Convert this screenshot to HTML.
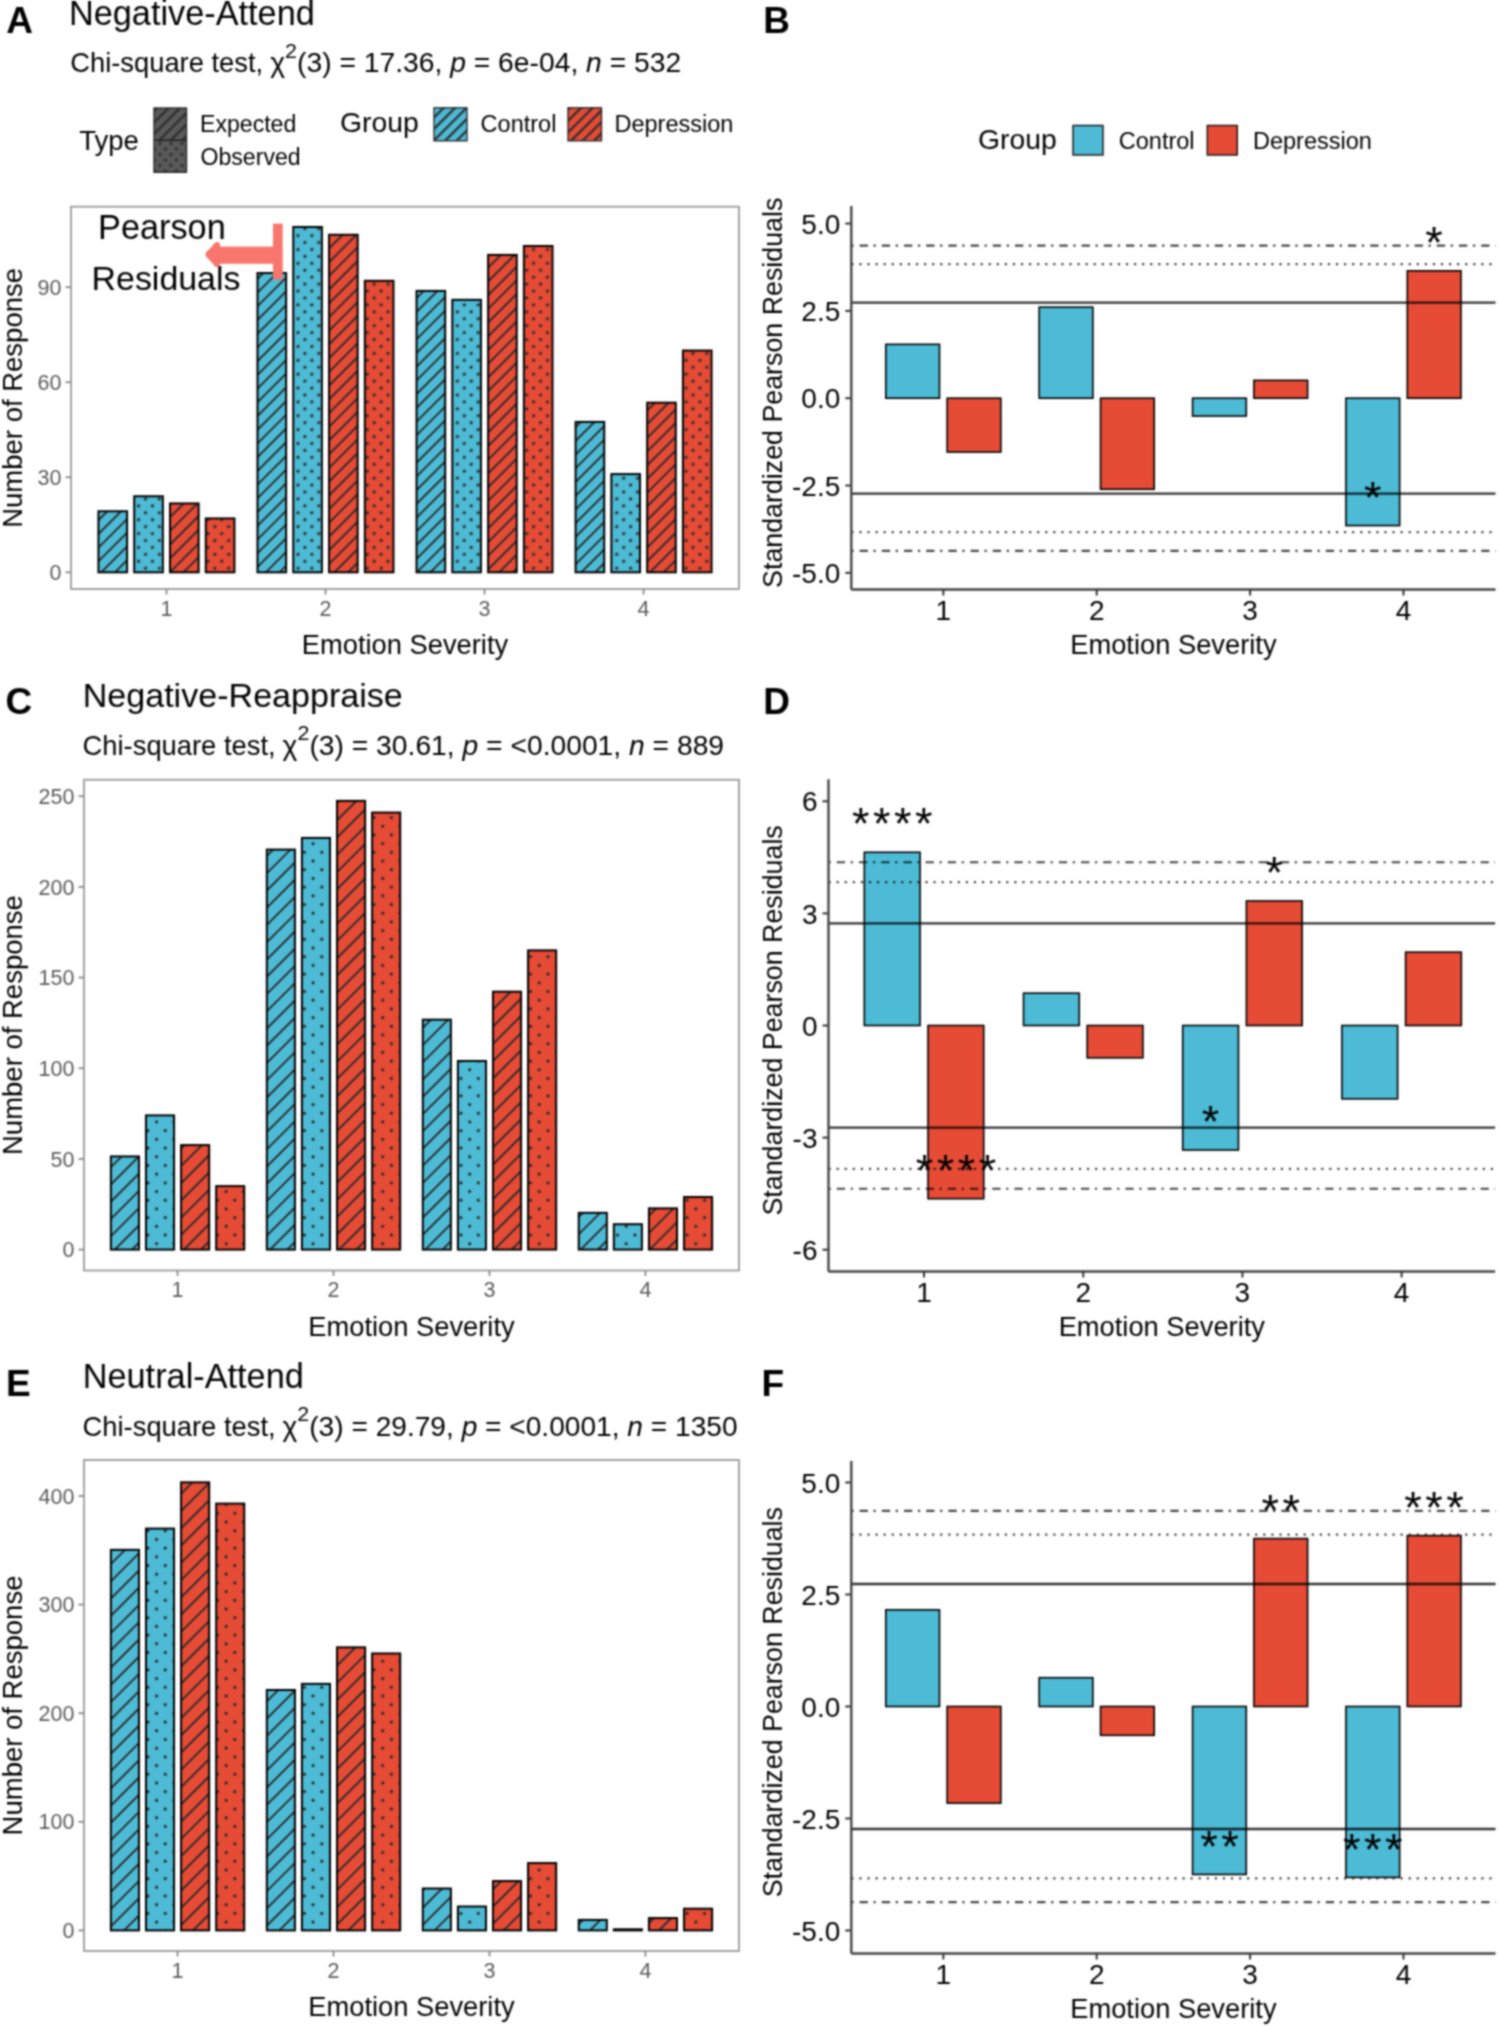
<!DOCTYPE html>
<html><head><meta charset="utf-8"><title>Figure</title>
<style>html,body{margin:0;padding:0;background:#fff;} svg{display:block;} text{font-family:"Liberation Sans",sans-serif;}</style>
</head><body>
<svg width="1499" height="2026" viewBox="0 0 1499 2026" font-family="Liberation Sans, sans-serif">
<defs>
<pattern id="stA" patternUnits="userSpaceOnUse" width="9.7" height="9.7" patternTransform="rotate(45)">
<rect x="0" y="0" width="1.9" height="9.7" fill="#2b2b2b"/></pattern>
<pattern id="dtA" patternUnits="userSpaceOnUse" width="9.8" height="9.8" patternTransform="rotate(45)">
<circle cx="4.9" cy="4.9" r="1.6" fill="#2b2b2b"/></pattern>
<pattern id="stC" patternUnits="userSpaceOnUse" width="12.2" height="12.2" patternTransform="rotate(45)">
<rect x="0" y="0" width="1.9" height="12.2" fill="#2b2b2b"/></pattern>
<pattern id="dtC" patternUnits="userSpaceOnUse" width="12.3" height="12.3" patternTransform="rotate(45)">
<circle cx="6.15" cy="6.15" r="1.6" fill="#2b2b2b"/></pattern>
<pattern id="stk" patternUnits="userSpaceOnUse" width="8.1" height="8.1" patternTransform="rotate(45)">
<rect x="0" y="0" width="2.3" height="8.1" fill="#2e2e2e"/></pattern>
<pattern id="dtk" patternUnits="userSpaceOnUse" width="7.8" height="7.8" patternTransform="rotate(45)">
<circle cx="3.9" cy="3.9" r="1.8" fill="#333"/></pattern>
</defs>
<filter id="soft" x="0" y="0" width="1499" height="2026" filterUnits="userSpaceOnUse" color-interpolation-filters="sRGB"><feConvolveMatrix order="5" kernelMatrix="0.00717 0.04567 0.08466 0.04567 0.00717 0.04567 0.29096 0.53941 0.29096 0.04567 0.08466 0.53941 1.00000 0.53941 0.08466 0.04567 0.29096 0.53941 0.29096 0.04567 0.00717 0.04567 0.08466 0.04567 0.00717" edgeMode="duplicate"/></filter>
<rect width="1499" height="2026" fill="#fff"/>
<g filter="url(#soft)">
<rect width="1499" height="2026" fill="#fff"/>
<text x="6.3" y="32.9" font-size="37" text-anchor="start" fill="#000" font-weight="bold" >A</text>
<text x="763.2" y="33.0" font-size="37" text-anchor="start" fill="#000" font-weight="bold" >B</text>
<text x="5.6" y="714.3" font-size="37" text-anchor="start" fill="#000" font-weight="bold" >C</text>
<text x="763.2" y="714.4" font-size="37" text-anchor="start" fill="#000" font-weight="bold" >D</text>
<text x="6.0" y="1395.7" font-size="37" text-anchor="start" fill="#000" font-weight="bold" >E</text>
<text x="761.4" y="1396.0" font-size="37" text-anchor="start" fill="#000" font-weight="bold" >F</text>
<text x="68.9" y="25.4" font-size="34.3" text-anchor="start" fill="#000" font-weight="normal" >Negative-Attend</text>
<text x="70.2" y="72" font-size="27.6" fill="#000" textLength="193.0" lengthAdjust="spacingAndGlyphs">Chi-square test,</text>
<text x="270.2" y="72" font-size="27.6" fill="#000" textLength="411.0" lengthAdjust="spacingAndGlyphs">χ<tspan font-size="21" dy="-14.5">2</tspan><tspan dy="14.5">(3) = 17.36, </tspan><tspan font-style="italic">p</tspan> = 6e-04, <tspan font-style="italic">n</tspan> = 532</text>
<text x="82.7" y="707.0" font-size="34.1" text-anchor="start" fill="#000" font-weight="normal" >Negative-Reappraise</text>
<text x="82.6" y="754.7" font-size="27.6" fill="#000" textLength="193.0" lengthAdjust="spacingAndGlyphs">Chi-square test,</text>
<text x="282.6" y="754.7" font-size="27.6" fill="#000" textLength="441.5" lengthAdjust="spacingAndGlyphs">χ<tspan font-size="21" dy="-14.5">2</tspan><tspan dy="14.5">(3) = 30.61, </tspan><tspan font-style="italic">p</tspan> = &lt;0.0001, <tspan font-style="italic">n</tspan> = 889</text>
<text x="82.7" y="1388.4" font-size="34.3" text-anchor="start" fill="#000" font-weight="normal" >Neutral-Attend</text>
<text x="82.6" y="1435.7" font-size="27.6" fill="#000" textLength="193.0" lengthAdjust="spacingAndGlyphs">Chi-square test,</text>
<text x="282.6" y="1435.7" font-size="27.6" fill="#000" textLength="455.0" lengthAdjust="spacingAndGlyphs">χ<tspan font-size="21" dy="-14.5">2</tspan><tspan dy="14.5">(3) = 29.79, </tspan><tspan font-style="italic">p</tspan> = &lt;0.0001, <tspan font-style="italic">n</tspan> = 1350</text>
<text x="79.2" y="150.3" font-size="27.5" text-anchor="start" fill="#000" font-weight="normal" >Type</text>
<rect x="154" y="108" width="32.5" height="32.3" fill="#595959"/><rect x="154" y="108" width="32.5" height="32.3" fill="url(#stk)"/>
<rect x="154" y="140.3" width="32.5" height="32" fill="#595959"/><rect x="154" y="140.3" width="32.5" height="32" fill="url(#dtk)"/>
<rect x="154" y="108" width="32.5" height="64.3" fill="none" stroke="#222" stroke-width="1.3"/><line x1="154" y1="140.3" x2="186.5" y2="140.3" stroke="#222" stroke-width="1.5"/>
<text x="200.0" y="131.7" font-size="23.1" text-anchor="start" fill="#000" font-weight="normal" >Expected</text>
<text x="200.5" y="165.0" font-size="23.1" text-anchor="start" fill="#000" font-weight="normal" >Observed</text>
<text x="340.1" y="132.0" font-size="28.3" text-anchor="start" fill="#000" font-weight="normal" >Group</text>
<rect x="434" y="107.8" width="33" height="33" fill="#4DBBD5"/><rect x="434" y="107.8" width="33" height="33" fill="url(#stk)"/><rect x="434" y="107.8" width="33" height="33" fill="none" stroke="#222" stroke-width="1.3"/>
<text x="480.6" y="132.0" font-size="23.5" text-anchor="start" fill="#000" font-weight="normal" >Control</text>
<rect x="568" y="107.8" width="33.5" height="33" fill="#E64B35"/><rect x="568" y="107.8" width="33.5" height="33" fill="url(#stk)"/><rect x="568" y="107.8" width="33.5" height="33" fill="none" stroke="#222" stroke-width="1.3"/>
<text x="614.5" y="132.0" font-size="23.5" text-anchor="start" fill="#000" font-weight="normal" >Depression</text>
<text x="978.1" y="149.3" font-size="28.3" text-anchor="start" fill="#000" font-weight="normal" >Group</text>
<rect x="1073" y="125.5" width="30" height="29.5" fill="#4DBBD5" stroke="#111" stroke-width="1.4"/>
<text x="1118.8" y="148.7" font-size="23.5" text-anchor="start" fill="#000" font-weight="normal" >Control</text>
<rect x="1207.3" y="125.5" width="30" height="29.5" fill="#E64B35" stroke="#111" stroke-width="1.4"/>
<text x="1253.0" y="148.7" font-size="23.5" text-anchor="start" fill="#000" font-weight="normal" >Depression</text>
<rect x="71" y="206.7" width="668" height="382.3" fill="none" stroke="#9a9a9a" stroke-width="1.8"/>
<rect x="98.44" y="511.26" width="28.63" height="61.04" fill="#4DBBD5"/>
<rect x="98.44" y="511.26" width="28.63" height="61.04" fill="url(#stA)"/>
<rect x="98.44" y="511.26" width="28.63" height="61.04" fill="none" stroke="#000" stroke-width="2.0"/>
<rect x="134.22" y="496.27" width="28.63" height="76.03" fill="#4DBBD5"/>
<rect x="134.22" y="496.27" width="28.63" height="76.03" fill="url(#dtA)"/>
<rect x="134.22" y="496.27" width="28.63" height="76.03" fill="none" stroke="#000" stroke-width="2.0"/>
<rect x="170.01" y="503.45" width="28.63" height="68.85" fill="#E64B35"/>
<rect x="170.01" y="503.45" width="28.63" height="68.85" fill="url(#stA)"/>
<rect x="170.01" y="503.45" width="28.63" height="68.85" fill="none" stroke="#000" stroke-width="2.0"/>
<rect x="205.79" y="518.44" width="28.63" height="53.86" fill="#E64B35"/>
<rect x="205.79" y="518.44" width="28.63" height="53.86" fill="url(#dtA)"/>
<rect x="205.79" y="518.44" width="28.63" height="53.86" fill="none" stroke="#000" stroke-width="2.0"/>
<rect x="257.48" y="273.07" width="28.63" height="299.23" fill="#4DBBD5"/>
<rect x="257.48" y="273.07" width="28.63" height="299.23" fill="url(#stA)"/>
<rect x="257.48" y="273.07" width="28.63" height="299.23" fill="none" stroke="#000" stroke-width="2.0"/>
<rect x="293.27" y="226.99" width="28.63" height="345.31" fill="#4DBBD5"/>
<rect x="293.27" y="226.99" width="28.63" height="345.31" fill="url(#dtA)"/>
<rect x="293.27" y="226.99" width="28.63" height="345.31" fill="none" stroke="#000" stroke-width="2.0"/>
<rect x="329.05" y="234.77" width="28.63" height="337.53" fill="#E64B35"/>
<rect x="329.05" y="234.77" width="28.63" height="337.53" fill="url(#stA)"/>
<rect x="329.05" y="234.77" width="28.63" height="337.53" fill="none" stroke="#000" stroke-width="2.0"/>
<rect x="364.84" y="280.84" width="28.63" height="291.46" fill="#E64B35"/>
<rect x="364.84" y="280.84" width="28.63" height="291.46" fill="url(#dtA)"/>
<rect x="364.84" y="280.84" width="28.63" height="291.46" fill="none" stroke="#000" stroke-width="2.0"/>
<rect x="416.53" y="290.93" width="28.63" height="281.37" fill="#4DBBD5"/>
<rect x="416.53" y="290.93" width="28.63" height="281.37" fill="url(#stA)"/>
<rect x="416.53" y="290.93" width="28.63" height="281.37" fill="none" stroke="#000" stroke-width="2.0"/>
<rect x="452.32" y="299.85" width="28.63" height="272.45" fill="#4DBBD5"/>
<rect x="452.32" y="299.85" width="28.63" height="272.45" fill="url(#dtA)"/>
<rect x="452.32" y="299.85" width="28.63" height="272.45" fill="none" stroke="#000" stroke-width="2.0"/>
<rect x="488.10" y="254.92" width="28.63" height="317.38" fill="#E64B35"/>
<rect x="488.10" y="254.92" width="28.63" height="317.38" fill="url(#stA)"/>
<rect x="488.10" y="254.92" width="28.63" height="317.38" fill="none" stroke="#000" stroke-width="2.0"/>
<rect x="523.89" y="246.00" width="28.63" height="326.30" fill="#E64B35"/>
<rect x="523.89" y="246.00" width="28.63" height="326.30" fill="url(#dtA)"/>
<rect x="523.89" y="246.00" width="28.63" height="326.30" fill="none" stroke="#000" stroke-width="2.0"/>
<rect x="575.58" y="421.94" width="28.63" height="150.36" fill="#4DBBD5"/>
<rect x="575.58" y="421.94" width="28.63" height="150.36" fill="url(#stA)"/>
<rect x="575.58" y="421.94" width="28.63" height="150.36" fill="none" stroke="#000" stroke-width="2.0"/>
<rect x="611.36" y="474.09" width="28.63" height="98.21" fill="#4DBBD5"/>
<rect x="611.36" y="474.09" width="28.63" height="98.21" fill="url(#dtA)"/>
<rect x="611.36" y="474.09" width="28.63" height="98.21" fill="none" stroke="#000" stroke-width="2.0"/>
<rect x="647.15" y="402.69" width="28.63" height="169.61" fill="#E64B35"/>
<rect x="647.15" y="402.69" width="28.63" height="169.61" fill="url(#stA)"/>
<rect x="647.15" y="402.69" width="28.63" height="169.61" fill="none" stroke="#000" stroke-width="2.0"/>
<rect x="682.94" y="350.54" width="28.63" height="221.76" fill="#E64B35"/>
<rect x="682.94" y="350.54" width="28.63" height="221.76" fill="url(#dtA)"/>
<rect x="682.94" y="350.54" width="28.63" height="221.76" fill="none" stroke="#000" stroke-width="2.0"/>
<line x1="65.5" y1="572.30" x2="71" y2="572.30" stroke="#8a8a8a" stroke-width="1.8"/>
<text x="61.4" y="579.9" font-size="21.5" text-anchor="end" fill="#5a5a5a" font-weight="normal" >0</text>
<line x1="65.5" y1="477.26" x2="71" y2="477.26" stroke="#8a8a8a" stroke-width="1.8"/>
<text x="61.4" y="484.9" font-size="21.5" text-anchor="end" fill="#5a5a5a" font-weight="normal" >30</text>
<line x1="65.5" y1="382.22" x2="71" y2="382.22" stroke="#8a8a8a" stroke-width="1.8"/>
<text x="61.4" y="389.8" font-size="21.5" text-anchor="end" fill="#5a5a5a" font-weight="normal" >60</text>
<line x1="65.5" y1="287.18" x2="71" y2="287.18" stroke="#8a8a8a" stroke-width="1.8"/>
<text x="61.4" y="294.8" font-size="21.5" text-anchor="end" fill="#5a5a5a" font-weight="normal" >90</text>
<line x1="166.43" y1="589" x2="166.43" y2="594.5" stroke="#8a8a8a" stroke-width="1.8"/>
<text x="166.4" y="615.9" font-size="21.5" text-anchor="middle" fill="#5a5a5a" font-weight="normal" >1</text>
<line x1="325.48" y1="589" x2="325.48" y2="594.5" stroke="#8a8a8a" stroke-width="1.8"/>
<text x="325.5" y="615.9" font-size="21.5" text-anchor="middle" fill="#5a5a5a" font-weight="normal" >2</text>
<line x1="484.52" y1="589" x2="484.52" y2="594.5" stroke="#8a8a8a" stroke-width="1.8"/>
<text x="484.5" y="615.9" font-size="21.5" text-anchor="middle" fill="#5a5a5a" font-weight="normal" >3</text>
<line x1="643.57" y1="589" x2="643.57" y2="594.5" stroke="#8a8a8a" stroke-width="1.8"/>
<text x="643.6" y="615.9" font-size="21.5" text-anchor="middle" fill="#5a5a5a" font-weight="normal" >4</text>
<text x="405.0" y="654.0" font-size="27.3" text-anchor="middle" fill="#000" font-weight="normal" >Emotion Severity</text>
<text transform="translate(22.1,397.9) rotate(-90)" x="0" y="0" font-size="27.5" text-anchor="middle" fill="#000">Number of Response</text>
<rect x="84" y="779.75" width="655" height="490.75" fill="none" stroke="#9a9a9a" stroke-width="1.8"/>
<rect x="110.90" y="1156.43" width="28.07" height="93.17" fill="#4DBBD5"/>
<rect x="110.90" y="1156.43" width="28.07" height="93.17" fill="url(#stC)"/>
<rect x="110.90" y="1156.43" width="28.07" height="93.17" fill="none" stroke="#000" stroke-width="2.0"/>
<rect x="145.99" y="1115.40" width="28.07" height="134.20" fill="#4DBBD5"/>
<rect x="145.99" y="1115.40" width="28.07" height="134.20" fill="url(#dtC)"/>
<rect x="145.99" y="1115.40" width="28.07" height="134.20" fill="none" stroke="#000" stroke-width="2.0"/>
<rect x="181.08" y="1145.09" width="28.07" height="104.51" fill="#E64B35"/>
<rect x="181.08" y="1145.09" width="28.07" height="104.51" fill="url(#stC)"/>
<rect x="181.08" y="1145.09" width="28.07" height="104.51" fill="none" stroke="#000" stroke-width="2.0"/>
<rect x="216.17" y="1186.13" width="28.07" height="63.47" fill="#E64B35"/>
<rect x="216.17" y="1186.13" width="28.07" height="63.47" fill="url(#dtC)"/>
<rect x="216.17" y="1186.13" width="28.07" height="63.47" fill="none" stroke="#000" stroke-width="2.0"/>
<rect x="266.85" y="849.59" width="28.07" height="400.01" fill="#4DBBD5"/>
<rect x="266.85" y="849.59" width="28.07" height="400.01" fill="url(#stC)"/>
<rect x="266.85" y="849.59" width="28.07" height="400.01" fill="none" stroke="#000" stroke-width="2.0"/>
<rect x="301.94" y="837.94" width="28.07" height="411.66" fill="#4DBBD5"/>
<rect x="301.94" y="837.94" width="28.07" height="411.66" fill="url(#dtC)"/>
<rect x="301.94" y="837.94" width="28.07" height="411.66" fill="none" stroke="#000" stroke-width="2.0"/>
<rect x="337.03" y="800.90" width="28.07" height="448.70" fill="#E64B35"/>
<rect x="337.03" y="800.90" width="28.07" height="448.70" fill="url(#stC)"/>
<rect x="337.03" y="800.90" width="28.07" height="448.70" fill="none" stroke="#000" stroke-width="2.0"/>
<rect x="372.12" y="812.55" width="28.07" height="437.05" fill="#E64B35"/>
<rect x="372.12" y="812.55" width="28.07" height="437.05" fill="url(#dtC)"/>
<rect x="372.12" y="812.55" width="28.07" height="437.05" fill="none" stroke="#000" stroke-width="2.0"/>
<rect x="422.81" y="1019.68" width="28.07" height="229.92" fill="#4DBBD5"/>
<rect x="422.81" y="1019.68" width="28.07" height="229.92" fill="url(#stC)"/>
<rect x="422.81" y="1019.68" width="28.07" height="229.92" fill="none" stroke="#000" stroke-width="2.0"/>
<rect x="457.90" y="1061.00" width="28.07" height="188.60" fill="#4DBBD5"/>
<rect x="457.90" y="1061.00" width="28.07" height="188.60" fill="url(#dtC)"/>
<rect x="457.90" y="1061.00" width="28.07" height="188.60" fill="none" stroke="#000" stroke-width="2.0"/>
<rect x="492.99" y="991.69" width="28.07" height="257.91" fill="#E64B35"/>
<rect x="492.99" y="991.69" width="28.07" height="257.91" fill="url(#stC)"/>
<rect x="492.99" y="991.69" width="28.07" height="257.91" fill="none" stroke="#000" stroke-width="2.0"/>
<rect x="528.07" y="950.37" width="28.07" height="299.23" fill="#E64B35"/>
<rect x="528.07" y="950.37" width="28.07" height="299.23" fill="url(#dtC)"/>
<rect x="528.07" y="950.37" width="28.07" height="299.23" fill="none" stroke="#000" stroke-width="2.0"/>
<rect x="578.76" y="1212.85" width="28.07" height="36.75" fill="#4DBBD5"/>
<rect x="578.76" y="1212.85" width="28.07" height="36.75" fill="url(#stC)"/>
<rect x="578.76" y="1212.85" width="28.07" height="36.75" fill="none" stroke="#000" stroke-width="2.0"/>
<rect x="613.85" y="1224.21" width="28.07" height="25.39" fill="#4DBBD5"/>
<rect x="613.85" y="1224.21" width="28.07" height="25.39" fill="url(#dtC)"/>
<rect x="613.85" y="1224.21" width="28.07" height="25.39" fill="none" stroke="#000" stroke-width="2.0"/>
<rect x="648.94" y="1208.37" width="28.07" height="41.23" fill="#E64B35"/>
<rect x="648.94" y="1208.37" width="28.07" height="41.23" fill="url(#stC)"/>
<rect x="648.94" y="1208.37" width="28.07" height="41.23" fill="none" stroke="#000" stroke-width="2.0"/>
<rect x="684.03" y="1197.01" width="28.07" height="52.59" fill="#E64B35"/>
<rect x="684.03" y="1197.01" width="28.07" height="52.59" fill="url(#dtC)"/>
<rect x="684.03" y="1197.01" width="28.07" height="52.59" fill="none" stroke="#000" stroke-width="2.0"/>
<line x1="78.5" y1="1249.60" x2="84" y2="1249.60" stroke="#8a8a8a" stroke-width="1.8"/>
<text x="74.4" y="1257.2" font-size="21.5" text-anchor="end" fill="#5a5a5a" font-weight="normal" >0</text>
<line x1="78.5" y1="1158.92" x2="84" y2="1158.92" stroke="#8a8a8a" stroke-width="1.8"/>
<text x="74.4" y="1166.5" font-size="21.5" text-anchor="end" fill="#5a5a5a" font-weight="normal" >50</text>
<line x1="78.5" y1="1068.25" x2="84" y2="1068.25" stroke="#8a8a8a" stroke-width="1.8"/>
<text x="74.4" y="1075.8" font-size="21.5" text-anchor="end" fill="#5a5a5a" font-weight="normal" >100</text>
<line x1="78.5" y1="977.57" x2="84" y2="977.57" stroke="#8a8a8a" stroke-width="1.8"/>
<text x="74.4" y="985.2" font-size="21.5" text-anchor="end" fill="#5a5a5a" font-weight="normal" >150</text>
<line x1="78.5" y1="886.90" x2="84" y2="886.90" stroke="#8a8a8a" stroke-width="1.8"/>
<text x="74.4" y="894.5" font-size="21.5" text-anchor="end" fill="#5a5a5a" font-weight="normal" >200</text>
<line x1="78.5" y1="796.22" x2="84" y2="796.22" stroke="#8a8a8a" stroke-width="1.8"/>
<text x="74.4" y="803.8" font-size="21.5" text-anchor="end" fill="#5a5a5a" font-weight="normal" >250</text>
<line x1="177.57" y1="1270.5" x2="177.57" y2="1276.0" stroke="#8a8a8a" stroke-width="1.8"/>
<text x="177.6" y="1297.4" font-size="21.5" text-anchor="middle" fill="#5a5a5a" font-weight="normal" >1</text>
<line x1="333.52" y1="1270.5" x2="333.52" y2="1276.0" stroke="#8a8a8a" stroke-width="1.8"/>
<text x="333.5" y="1297.4" font-size="21.5" text-anchor="middle" fill="#5a5a5a" font-weight="normal" >2</text>
<line x1="489.48" y1="1270.5" x2="489.48" y2="1276.0" stroke="#8a8a8a" stroke-width="1.8"/>
<text x="489.5" y="1297.4" font-size="21.5" text-anchor="middle" fill="#5a5a5a" font-weight="normal" >3</text>
<line x1="645.43" y1="1270.5" x2="645.43" y2="1276.0" stroke="#8a8a8a" stroke-width="1.8"/>
<text x="645.4" y="1297.4" font-size="21.5" text-anchor="middle" fill="#5a5a5a" font-weight="normal" >4</text>
<text x="411.5" y="1335.5" font-size="27.3" text-anchor="middle" fill="#000" font-weight="normal" >Emotion Severity</text>
<text transform="translate(22.1,1025.1) rotate(-90)" x="0" y="0" font-size="27.5" text-anchor="middle" fill="#000">Number of Response</text>
<rect x="84" y="1460" width="655" height="491" fill="none" stroke="#9a9a9a" stroke-width="1.8"/>
<rect x="110.90" y="1549.85" width="28.07" height="380.55" fill="#4DBBD5"/>
<rect x="110.90" y="1549.85" width="28.07" height="380.55" fill="url(#stC)"/>
<rect x="110.90" y="1549.85" width="28.07" height="380.55" fill="none" stroke="#000" stroke-width="2.0"/>
<rect x="145.99" y="1528.58" width="28.07" height="401.82" fill="#4DBBD5"/>
<rect x="145.99" y="1528.58" width="28.07" height="401.82" fill="url(#dtC)"/>
<rect x="145.99" y="1528.58" width="28.07" height="401.82" fill="none" stroke="#000" stroke-width="2.0"/>
<rect x="181.08" y="1482.33" width="28.07" height="448.07" fill="#E64B35"/>
<rect x="181.08" y="1482.33" width="28.07" height="448.07" fill="url(#stC)"/>
<rect x="181.08" y="1482.33" width="28.07" height="448.07" fill="none" stroke="#000" stroke-width="2.0"/>
<rect x="216.17" y="1503.60" width="28.07" height="426.80" fill="#E64B35"/>
<rect x="216.17" y="1503.60" width="28.07" height="426.80" fill="url(#dtC)"/>
<rect x="216.17" y="1503.60" width="28.07" height="426.80" fill="none" stroke="#000" stroke-width="2.0"/>
<rect x="266.85" y="1690.00" width="28.07" height="240.40" fill="#4DBBD5"/>
<rect x="266.85" y="1690.00" width="28.07" height="240.40" fill="url(#stC)"/>
<rect x="266.85" y="1690.00" width="28.07" height="240.40" fill="none" stroke="#000" stroke-width="2.0"/>
<rect x="301.94" y="1683.88" width="28.07" height="246.52" fill="#4DBBD5"/>
<rect x="301.94" y="1683.88" width="28.07" height="246.52" fill="url(#dtC)"/>
<rect x="301.94" y="1683.88" width="28.07" height="246.52" fill="none" stroke="#000" stroke-width="2.0"/>
<rect x="337.03" y="1647.35" width="28.07" height="283.05" fill="#E64B35"/>
<rect x="337.03" y="1647.35" width="28.07" height="283.05" fill="url(#stC)"/>
<rect x="337.03" y="1647.35" width="28.07" height="283.05" fill="none" stroke="#000" stroke-width="2.0"/>
<rect x="372.12" y="1653.47" width="28.07" height="276.93" fill="#E64B35"/>
<rect x="372.12" y="1653.47" width="28.07" height="276.93" fill="url(#dtC)"/>
<rect x="372.12" y="1653.47" width="28.07" height="276.93" fill="none" stroke="#000" stroke-width="2.0"/>
<rect x="422.81" y="1888.50" width="28.07" height="41.90" fill="#4DBBD5"/>
<rect x="422.81" y="1888.50" width="28.07" height="41.90" fill="url(#stC)"/>
<rect x="422.81" y="1888.50" width="28.07" height="41.90" fill="none" stroke="#000" stroke-width="2.0"/>
<rect x="457.90" y="1906.51" width="28.07" height="23.89" fill="#4DBBD5"/>
<rect x="457.90" y="1906.51" width="28.07" height="23.89" fill="url(#dtC)"/>
<rect x="457.90" y="1906.51" width="28.07" height="23.89" fill="none" stroke="#000" stroke-width="2.0"/>
<rect x="492.99" y="1881.07" width="28.07" height="49.33" fill="#E64B35"/>
<rect x="492.99" y="1881.07" width="28.07" height="49.33" fill="url(#stC)"/>
<rect x="492.99" y="1881.07" width="28.07" height="49.33" fill="none" stroke="#000" stroke-width="2.0"/>
<rect x="528.07" y="1863.07" width="28.07" height="67.33" fill="#E64B35"/>
<rect x="528.07" y="1863.07" width="28.07" height="67.33" fill="url(#dtC)"/>
<rect x="528.07" y="1863.07" width="28.07" height="67.33" fill="none" stroke="#000" stroke-width="2.0"/>
<rect x="578.76" y="1919.93" width="28.07" height="10.47" fill="#4DBBD5"/>
<rect x="578.76" y="1919.93" width="28.07" height="10.47" fill="url(#stC)"/>
<rect x="578.76" y="1919.93" width="28.07" height="10.47" fill="none" stroke="#000" stroke-width="2.0"/>
<rect x="613.85" y="1929.31" width="28.07" height="1.09" fill="#4DBBD5"/>
<rect x="613.85" y="1929.31" width="28.07" height="1.09" fill="none" stroke="#000" stroke-width="2.0"/>
<rect x="648.94" y="1918.07" width="28.07" height="12.33" fill="#E64B35"/>
<rect x="648.94" y="1918.07" width="28.07" height="12.33" fill="url(#stC)"/>
<rect x="648.94" y="1918.07" width="28.07" height="12.33" fill="none" stroke="#000" stroke-width="2.0"/>
<rect x="684.03" y="1908.68" width="28.07" height="21.72" fill="#E64B35"/>
<rect x="684.03" y="1908.68" width="28.07" height="21.72" fill="url(#dtC)"/>
<rect x="684.03" y="1908.68" width="28.07" height="21.72" fill="none" stroke="#000" stroke-width="2.0"/>
<line x1="78.5" y1="1930.40" x2="84" y2="1930.40" stroke="#8a8a8a" stroke-width="1.8"/>
<text x="74.4" y="1938.0" font-size="21.5" text-anchor="end" fill="#5a5a5a" font-weight="normal" >0</text>
<line x1="78.5" y1="1821.80" x2="84" y2="1821.80" stroke="#8a8a8a" stroke-width="1.8"/>
<text x="74.4" y="1829.4" font-size="21.5" text-anchor="end" fill="#5a5a5a" font-weight="normal" >100</text>
<line x1="78.5" y1="1713.20" x2="84" y2="1713.20" stroke="#8a8a8a" stroke-width="1.8"/>
<text x="74.4" y="1720.8" font-size="21.5" text-anchor="end" fill="#5a5a5a" font-weight="normal" >200</text>
<line x1="78.5" y1="1604.60" x2="84" y2="1604.60" stroke="#8a8a8a" stroke-width="1.8"/>
<text x="74.4" y="1612.2" font-size="21.5" text-anchor="end" fill="#5a5a5a" font-weight="normal" >300</text>
<line x1="78.5" y1="1496.00" x2="84" y2="1496.00" stroke="#8a8a8a" stroke-width="1.8"/>
<text x="74.4" y="1503.6" font-size="21.5" text-anchor="end" fill="#5a5a5a" font-weight="normal" >400</text>
<line x1="177.57" y1="1951" x2="177.57" y2="1956.5" stroke="#8a8a8a" stroke-width="1.8"/>
<text x="177.6" y="1977.9" font-size="21.5" text-anchor="middle" fill="#5a5a5a" font-weight="normal" >1</text>
<line x1="333.52" y1="1951" x2="333.52" y2="1956.5" stroke="#8a8a8a" stroke-width="1.8"/>
<text x="333.5" y="1977.9" font-size="21.5" text-anchor="middle" fill="#5a5a5a" font-weight="normal" >2</text>
<line x1="489.48" y1="1951" x2="489.48" y2="1956.5" stroke="#8a8a8a" stroke-width="1.8"/>
<text x="489.5" y="1977.9" font-size="21.5" text-anchor="middle" fill="#5a5a5a" font-weight="normal" >3</text>
<line x1="645.43" y1="1951" x2="645.43" y2="1956.5" stroke="#8a8a8a" stroke-width="1.8"/>
<text x="645.4" y="1977.9" font-size="21.5" text-anchor="middle" fill="#5a5a5a" font-weight="normal" >4</text>
<text x="411.5" y="2016.0" font-size="27.3" text-anchor="middle" fill="#000" font-weight="normal" >Emotion Severity</text>
<text transform="translate(22.1,1705.5) rotate(-90)" x="0" y="0" font-size="27.5" text-anchor="middle" fill="#000">Number of Response</text>
<text x="98.0" y="239.4" font-size="34.3" text-anchor="start" fill="#000" font-weight="normal" >Pearson</text>
<text x="91.6" y="290.3" font-size="33.9" text-anchor="start" fill="#000" font-weight="normal" >Residuals</text>
<g fill="#F8766D"><rect x="273" y="223.6" width="9.7" height="56"/><rect x="216" y="246.6" width="58" height="17.2"/><path d="M218.4,242.3 L218.4,266.7 L209,259.5 Q205.2,256.5 205.5,254.5 Q205.2,252.5 209,249.5 Z"/><path d="M217,245 L209,254.5 L217,264 Z" stroke="#F8766D" stroke-width="6" stroke-linejoin="round"/></g>
<line x1="845.3" y1="223.55" x2="851.3" y2="223.55" stroke="#333" stroke-width="2"/>
<text x="840.3" y="233.6" font-size="28" text-anchor="end" fill="#000" font-weight="normal" >5.0</text>
<line x1="845.3" y1="310.88" x2="851.3" y2="310.88" stroke="#333" stroke-width="2"/>
<text x="840.3" y="321.0" font-size="28" text-anchor="end" fill="#000" font-weight="normal" >2.5</text>
<line x1="845.3" y1="398.20" x2="851.3" y2="398.20" stroke="#333" stroke-width="2"/>
<text x="840.3" y="408.3" font-size="28" text-anchor="end" fill="#000" font-weight="normal" >0.0</text>
<line x1="845.3" y1="485.52" x2="851.3" y2="485.52" stroke="#333" stroke-width="2"/>
<text x="840.3" y="495.6" font-size="28" text-anchor="end" fill="#000" font-weight="normal" >-2.5</text>
<line x1="845.3" y1="572.85" x2="851.3" y2="572.85" stroke="#333" stroke-width="2"/>
<text x="840.3" y="583.0" font-size="28" text-anchor="end" fill="#000" font-weight="normal" >-5.0</text>
<rect x="885.81" y="344.35" width="53.68" height="53.85" fill="#4DBBD5" stroke="#000" stroke-width="1.6"/>
<rect x="947.16" y="398.20" width="53.68" height="53.85" fill="#E64B35" stroke="#000" stroke-width="1.6"/>
<rect x="1039.19" y="307.17" width="53.68" height="91.03" fill="#4DBBD5" stroke="#000" stroke-width="1.6"/>
<rect x="1100.54" y="398.20" width="53.68" height="91.03" fill="#E64B35" stroke="#000" stroke-width="1.6"/>
<rect x="1192.57" y="398.20" width="53.68" height="17.85" fill="#4DBBD5" stroke="#000" stroke-width="1.6"/>
<rect x="1253.92" y="380.35" width="53.68" height="17.85" fill="#E64B35" stroke="#000" stroke-width="1.6"/>
<rect x="1345.95" y="398.20" width="53.68" height="127.37" fill="#4DBBD5" stroke="#000" stroke-width="1.6"/>
<rect x="1407.31" y="270.83" width="53.68" height="127.37" fill="#E64B35" stroke="#000" stroke-width="1.6"/>
<line x1="851.3" y1="302.69" x2="1495.5" y2="302.69" stroke="#000" stroke-opacity="0.8" stroke-width="2.3"/>
<line x1="851.3" y1="493.71" x2="1495.5" y2="493.71" stroke="#000" stroke-opacity="0.8" stroke-width="2.3"/>
<line x1="851.3" y1="264.20" x2="1495.5" y2="264.20" stroke="#000" stroke-opacity="0.72" stroke-width="2.2" stroke-dasharray="2.2 5.877"/>
<line x1="851.3" y1="532.20" x2="1495.5" y2="532.20" stroke="#000" stroke-opacity="0.72" stroke-width="2.2" stroke-dasharray="2.2 5.877"/>
<line x1="851.3" y1="245.60" x2="1495.5" y2="245.60" stroke="#000" stroke-opacity="0.72" stroke-width="2.2" stroke-dasharray="2.3 6 8.3 5.6"/>
<line x1="851.3" y1="550.80" x2="1495.5" y2="550.80" stroke="#000" stroke-opacity="0.72" stroke-width="2.2" stroke-dasharray="2.3 6 8.3 5.6"/>
<text x="1372.8" y="512.6" font-size="45" text-anchor="middle" fill="#000" font-weight="normal" >*</text>
<text x="1434.1" y="257.9" font-size="45" text-anchor="middle" fill="#000" font-weight="normal" >*</text>
<line x1="851.3" y1="206" x2="851.3" y2="589.5" stroke="#444" stroke-width="2.4"/>
<line x1="851.3" y1="589.5" x2="1495.5" y2="589.5" stroke="#444" stroke-width="2.4"/>
<line x1="943.33" y1="589.5" x2="943.33" y2="595.5" stroke="#333" stroke-width="2"/>
<text x="943.3" y="619.7" font-size="28" text-anchor="middle" fill="#000" font-weight="normal" >1</text>
<line x1="1096.71" y1="589.5" x2="1096.71" y2="595.5" stroke="#333" stroke-width="2"/>
<text x="1096.7" y="619.7" font-size="28" text-anchor="middle" fill="#000" font-weight="normal" >2</text>
<line x1="1250.09" y1="589.5" x2="1250.09" y2="595.5" stroke="#333" stroke-width="2"/>
<text x="1250.1" y="619.7" font-size="28" text-anchor="middle" fill="#000" font-weight="normal" >3</text>
<line x1="1403.47" y1="589.5" x2="1403.47" y2="595.5" stroke="#333" stroke-width="2"/>
<text x="1403.5" y="619.7" font-size="28" text-anchor="middle" fill="#000" font-weight="normal" >4</text>
<text x="1173.4" y="653.8" font-size="27.3" text-anchor="middle" fill="#000" font-weight="normal" >Emotion Severity</text>
<text transform="translate(782,392.8) rotate(-90)" x="0" y="0" font-size="26.8" text-anchor="middle" fill="#000">Standardized Pearson Residuals</text>
<line x1="822.5" y1="801.28" x2="828.5" y2="801.28" stroke="#333" stroke-width="2"/>
<text x="817.5" y="811.4" font-size="28" text-anchor="end" fill="#000" font-weight="normal" >6</text>
<line x1="822.5" y1="913.39" x2="828.5" y2="913.39" stroke="#333" stroke-width="2"/>
<text x="817.5" y="923.5" font-size="28" text-anchor="end" fill="#000" font-weight="normal" >3</text>
<line x1="822.5" y1="1025.50" x2="828.5" y2="1025.50" stroke="#333" stroke-width="2"/>
<text x="817.5" y="1035.6" font-size="28" text-anchor="end" fill="#000" font-weight="normal" >0</text>
<line x1="822.5" y1="1137.61" x2="828.5" y2="1137.61" stroke="#333" stroke-width="2"/>
<text x="817.5" y="1147.7" font-size="28" text-anchor="end" fill="#000" font-weight="normal" >-3</text>
<line x1="822.5" y1="1249.72" x2="828.5" y2="1249.72" stroke="#333" stroke-width="2"/>
<text x="817.5" y="1259.8" font-size="28" text-anchor="end" fill="#000" font-weight="normal" >-6</text>
<rect x="864.32" y="852.29" width="55.72" height="173.21" fill="#4DBBD5" stroke="#000" stroke-width="1.6"/>
<rect x="928.00" y="1025.50" width="55.72" height="173.21" fill="#E64B35" stroke="#000" stroke-width="1.6"/>
<rect x="1023.52" y="993.20" width="55.72" height="32.30" fill="#4DBBD5" stroke="#000" stroke-width="1.6"/>
<rect x="1087.20" y="1025.50" width="55.72" height="32.30" fill="#E64B35" stroke="#000" stroke-width="1.6"/>
<rect x="1182.72" y="1025.50" width="55.72" height="124.53" fill="#4DBBD5" stroke="#000" stroke-width="1.6"/>
<rect x="1246.40" y="900.97" width="55.72" height="124.53" fill="#E64B35" stroke="#000" stroke-width="1.6"/>
<rect x="1341.92" y="1025.50" width="55.72" height="73.34" fill="#4DBBD5" stroke="#000" stroke-width="1.6"/>
<rect x="1405.60" y="952.16" width="55.72" height="73.34" fill="#E64B35" stroke="#000" stroke-width="1.6"/>
<line x1="828.5" y1="923.32" x2="1495.1" y2="923.32" stroke="#000" stroke-opacity="0.8" stroke-width="2.3"/>
<line x1="828.5" y1="1127.68" x2="1495.1" y2="1127.68" stroke="#000" stroke-opacity="0.8" stroke-width="2.3"/>
<line x1="828.5" y1="882.14" x2="1495.1" y2="882.14" stroke="#000" stroke-opacity="0.72" stroke-width="2.2" stroke-dasharray="2.2 5.877"/>
<line x1="828.5" y1="1168.86" x2="1495.1" y2="1168.86" stroke="#000" stroke-opacity="0.72" stroke-width="2.2" stroke-dasharray="2.2 5.877"/>
<line x1="828.5" y1="862.24" x2="1495.1" y2="862.24" stroke="#000" stroke-opacity="0.72" stroke-width="2.2" stroke-dasharray="2.3 6 8.3 5.6"/>
<line x1="828.5" y1="1188.76" x2="1495.1" y2="1188.76" stroke="#000" stroke-opacity="0.72" stroke-width="2.2" stroke-dasharray="2.3 6 8.3 5.6"/>
<text x="860.7" y="839.3" font-size="45" text-anchor="middle" fill="#000" font-weight="normal" >*</text>
<text x="881.7" y="839.3" font-size="45" text-anchor="middle" fill="#000" font-weight="normal" >*</text>
<text x="902.7" y="839.3" font-size="45" text-anchor="middle" fill="#000" font-weight="normal" >*</text>
<text x="923.7" y="839.3" font-size="45" text-anchor="middle" fill="#000" font-weight="normal" >*</text>
<text x="924.4" y="1185.8" font-size="45" text-anchor="middle" fill="#000" font-weight="normal" >*</text>
<text x="945.4" y="1185.8" font-size="45" text-anchor="middle" fill="#000" font-weight="normal" >*</text>
<text x="966.4" y="1185.8" font-size="45" text-anchor="middle" fill="#000" font-weight="normal" >*</text>
<text x="987.4" y="1185.8" font-size="45" text-anchor="middle" fill="#000" font-weight="normal" >*</text>
<text x="1210.6" y="1137.1" font-size="45" text-anchor="middle" fill="#000" font-weight="normal" >*</text>
<text x="1274.3" y="888.0" font-size="45" text-anchor="middle" fill="#000" font-weight="normal" >*</text>
<line x1="828.5" y1="779.3" x2="828.5" y2="1271.5" stroke="#444" stroke-width="2.4"/>
<line x1="828.5" y1="1271.5" x2="1495.1" y2="1271.5" stroke="#444" stroke-width="2.4"/>
<line x1="924.02" y1="1271.5" x2="924.02" y2="1277.5" stroke="#333" stroke-width="2"/>
<text x="924.0" y="1301.7" font-size="28" text-anchor="middle" fill="#000" font-weight="normal" >1</text>
<line x1="1083.22" y1="1271.5" x2="1083.22" y2="1277.5" stroke="#333" stroke-width="2"/>
<text x="1083.2" y="1301.7" font-size="28" text-anchor="middle" fill="#000" font-weight="normal" >2</text>
<line x1="1242.42" y1="1271.5" x2="1242.42" y2="1277.5" stroke="#333" stroke-width="2"/>
<text x="1242.4" y="1301.7" font-size="28" text-anchor="middle" fill="#000" font-weight="normal" >3</text>
<line x1="1401.62" y1="1271.5" x2="1401.62" y2="1277.5" stroke="#333" stroke-width="2"/>
<text x="1401.6" y="1301.7" font-size="28" text-anchor="middle" fill="#000" font-weight="normal" >4</text>
<text x="1161.8" y="1335.8" font-size="27.3" text-anchor="middle" fill="#000" font-weight="normal" >Emotion Severity</text>
<text transform="translate(782,1020.4) rotate(-90)" x="0" y="0" font-size="26.8" text-anchor="middle" fill="#000">Standardized Pearson Residuals</text>
<line x1="845.3" y1="1482.50" x2="851.3" y2="1482.50" stroke="#333" stroke-width="2"/>
<text x="840.3" y="1492.6" font-size="28" text-anchor="end" fill="#000" font-weight="normal" >5.0</text>
<line x1="845.3" y1="1594.50" x2="851.3" y2="1594.50" stroke="#333" stroke-width="2"/>
<text x="840.3" y="1604.6" font-size="28" text-anchor="end" fill="#000" font-weight="normal" >2.5</text>
<line x1="845.3" y1="1706.50" x2="851.3" y2="1706.50" stroke="#333" stroke-width="2"/>
<text x="840.3" y="1716.6" font-size="28" text-anchor="end" fill="#000" font-weight="normal" >0.0</text>
<line x1="845.3" y1="1818.50" x2="851.3" y2="1818.50" stroke="#333" stroke-width="2"/>
<text x="840.3" y="1828.6" font-size="28" text-anchor="end" fill="#000" font-weight="normal" >-2.5</text>
<line x1="845.3" y1="1930.50" x2="851.3" y2="1930.50" stroke="#333" stroke-width="2"/>
<text x="840.3" y="1940.6" font-size="28" text-anchor="end" fill="#000" font-weight="normal" >-5.0</text>
<rect x="885.81" y="1609.84" width="53.68" height="96.66" fill="#4DBBD5" stroke="#000" stroke-width="1.6"/>
<rect x="947.16" y="1706.50" width="53.68" height="96.66" fill="#E64B35" stroke="#000" stroke-width="1.6"/>
<rect x="1039.19" y="1677.71" width="53.68" height="28.79" fill="#4DBBD5" stroke="#000" stroke-width="1.6"/>
<rect x="1100.54" y="1706.50" width="53.68" height="28.79" fill="#E64B35" stroke="#000" stroke-width="1.6"/>
<rect x="1192.57" y="1706.50" width="53.68" height="167.92" fill="#4DBBD5" stroke="#000" stroke-width="1.6"/>
<rect x="1253.92" y="1538.58" width="53.68" height="167.92" fill="#E64B35" stroke="#000" stroke-width="1.6"/>
<rect x="1345.95" y="1706.50" width="53.68" height="170.92" fill="#4DBBD5" stroke="#000" stroke-width="1.6"/>
<rect x="1407.31" y="1535.58" width="53.68" height="170.92" fill="#E64B35" stroke="#000" stroke-width="1.6"/>
<line x1="851.3" y1="1584.00" x2="1495.5" y2="1584.00" stroke="#000" stroke-opacity="0.8" stroke-width="2.3"/>
<line x1="851.3" y1="1829.00" x2="1495.5" y2="1829.00" stroke="#000" stroke-opacity="0.8" stroke-width="2.3"/>
<line x1="851.3" y1="1534.64" x2="1495.5" y2="1534.64" stroke="#000" stroke-opacity="0.72" stroke-width="2.2" stroke-dasharray="2.2 5.877"/>
<line x1="851.3" y1="1878.36" x2="1495.5" y2="1878.36" stroke="#000" stroke-opacity="0.72" stroke-width="2.2" stroke-dasharray="2.2 5.877"/>
<line x1="851.3" y1="1510.78" x2="1495.5" y2="1510.78" stroke="#000" stroke-opacity="0.72" stroke-width="2.2" stroke-dasharray="2.3 6 8.3 5.6"/>
<line x1="851.3" y1="1902.22" x2="1495.5" y2="1902.22" stroke="#000" stroke-opacity="0.72" stroke-width="2.2" stroke-dasharray="2.3 6 8.3 5.6"/>
<text x="1208.9" y="1861.5" font-size="45" text-anchor="middle" fill="#000" font-weight="normal" >*</text>
<text x="1229.9" y="1861.5" font-size="45" text-anchor="middle" fill="#000" font-weight="normal" >*</text>
<text x="1270.3" y="1525.6" font-size="45" text-anchor="middle" fill="#000" font-weight="normal" >*</text>
<text x="1291.3" y="1525.6" font-size="45" text-anchor="middle" fill="#000" font-weight="normal" >*</text>
<text x="1351.8" y="1864.5" font-size="45" text-anchor="middle" fill="#000" font-weight="normal" >*</text>
<text x="1372.8" y="1864.5" font-size="45" text-anchor="middle" fill="#000" font-weight="normal" >*</text>
<text x="1393.8" y="1864.5" font-size="45" text-anchor="middle" fill="#000" font-weight="normal" >*</text>
<text x="1413.1" y="1522.6" font-size="45" text-anchor="middle" fill="#000" font-weight="normal" >*</text>
<text x="1434.1" y="1522.6" font-size="45" text-anchor="middle" fill="#000" font-weight="normal" >*</text>
<text x="1455.1" y="1522.6" font-size="45" text-anchor="middle" fill="#000" font-weight="normal" >*</text>
<line x1="851.3" y1="1461" x2="851.3" y2="1953.5" stroke="#444" stroke-width="2.4"/>
<line x1="851.3" y1="1953.5" x2="1495.5" y2="1953.5" stroke="#444" stroke-width="2.4"/>
<line x1="943.33" y1="1953.5" x2="943.33" y2="1959.5" stroke="#333" stroke-width="2"/>
<text x="943.3" y="1983.7" font-size="28" text-anchor="middle" fill="#000" font-weight="normal" >1</text>
<line x1="1096.71" y1="1953.5" x2="1096.71" y2="1959.5" stroke="#333" stroke-width="2"/>
<text x="1096.7" y="1983.7" font-size="28" text-anchor="middle" fill="#000" font-weight="normal" >2</text>
<line x1="1250.09" y1="1953.5" x2="1250.09" y2="1959.5" stroke="#333" stroke-width="2"/>
<text x="1250.1" y="1983.7" font-size="28" text-anchor="middle" fill="#000" font-weight="normal" >3</text>
<line x1="1403.47" y1="1953.5" x2="1403.47" y2="1959.5" stroke="#333" stroke-width="2"/>
<text x="1403.5" y="1983.7" font-size="28" text-anchor="middle" fill="#000" font-weight="normal" >4</text>
<text x="1173.4" y="2017.8" font-size="27.3" text-anchor="middle" fill="#000" font-weight="normal" >Emotion Severity</text>
<text transform="translate(782,1702.2) rotate(-90)" x="0" y="0" font-size="26.8" text-anchor="middle" fill="#000">Standardized Pearson Residuals</text>
</g>
</svg>
</body></html>
